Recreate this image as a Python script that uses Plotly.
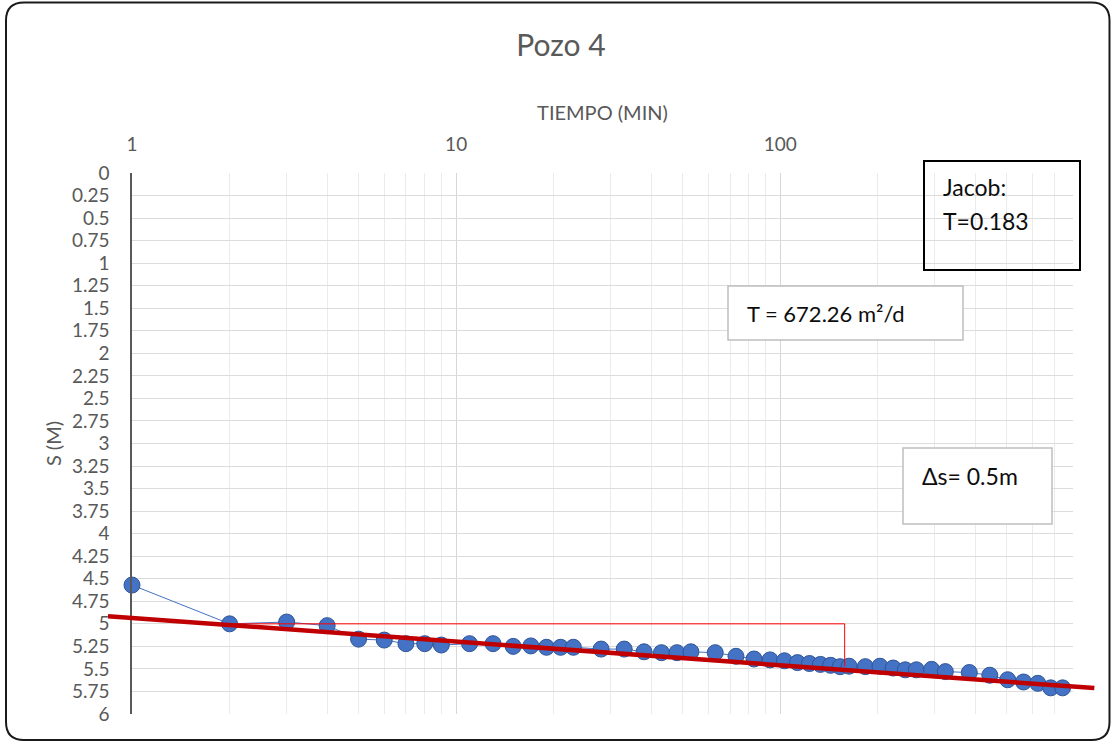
import math
import plotly.graph_objects as go

# ---------------- data ----------------
tiempo_min = [1, 2, 3, 4, 5, 6, 7, 8, 9, 11, 13, 15, 17, 19, 21, 23, 28, 33, 38, 43,
              48, 53, 63, 73, 83, 93, 103, 113, 123, 133, 143, 153, 163, 183, 203,
              223, 243, 263, 293, 323, 383, 443, 503, 563, 623, 683, 743]
abatimiento_m = [4.57, 5.00, 4.98, 5.02, 5.17, 5.18, 5.22, 5.22, 5.235, 5.22, 5.22,
                 5.25, 5.245, 5.26, 5.26, 5.26, 5.28, 5.28, 5.31, 5.32, 5.32, 5.31,
                 5.32, 5.36, 5.39, 5.40, 5.41, 5.43, 5.44, 5.45, 5.46, 5.475, 5.47,
                 5.475, 5.47, 5.49, 5.51, 5.51, 5.505, 5.53, 5.54, 5.57, 5.62, 5.645,
                 5.66, 5.71, 5.71]

# Jacob straight line: s = a + b*log10(t)
trend_a = 4.935
trend_b = 0.262
trend_t = [0.843, 931]

# delta-s construction line
delta_t = [2, 158, 158]
delta_s = [5.0, 5.0, 5.47]

x_range_max = 800
y_range = [6, 0]
y_ticks = [i * 0.25 for i in range(25)]

title_text = "Pozo 4"
x_title = "TIEMPO (MIN)"
y_title = "S (M)"

# ---------------- layout geometry ----------------
W, H = 1112, 742
ML, MR, MT, MB = 132, 39, 173, 28
PW, PH = W - ML - MR, H - MT - MB
FONT = "Lato"
GRAY = "#595959"


def px(xp):
    return (xp - ML) / PW


def py(yp):
    return 1 - (yp - MT) / PH


fig = go.Figure()

fig.add_trace(go.Scatter(
    x=tiempo_min, y=abatimiento_m, mode="lines+markers", cliponaxis=False,
    line=dict(color="#4472C4", width=1),
    marker=dict(size=16, color="#4472C4", line=dict(color="#2F5597", width=1)),
    showlegend=False, hoverinfo="x+y"))

fig.add_trace(go.Scatter(
    x=delta_t, y=delta_s, mode="lines",
    line=dict(color="#FF0000", width=1),
    showlegend=False, hoverinfo="skip"))

# trendline (extends beyond plot area like Excel forecast) -> paper coords
lmax = math.log10(x_range_max)
tx = [math.log10(t) / lmax for t in trend_t]
ty = [1 - (trend_a + trend_b * math.log10(t)) / y_range[0] for t in trend_t]
shapes = [dict(type="line", xref="paper", yref="paper",
               x0=tx[0], y0=ty[0], x1=tx[1], y1=ty[1],
               line=dict(color="#C00000", width=4.5), layer="above")]

# rounded chart frame
L, T, R, B, r = 6, 2.5, 1109.5, 740, 18
rx, ry = r / PW, r / PH
path = (f"M {px(L)+rx},{py(T)} L {px(R)-rx},{py(T)} Q {px(R)},{py(T)} {px(R)},{py(T)-ry} "
        f"L {px(R)},{py(B)+ry} Q {px(R)},{py(B)} {px(R)-rx},{py(B)} "
        f"L {px(L)+rx},{py(B)} Q {px(L)},{py(B)} {px(L)},{py(B)+ry} "
        f"L {px(L)},{py(T)-ry} Q {px(L)},{py(T)} {px(L)+rx},{py(T)} Z")
shapes.append(dict(type="path", xref="paper", yref="paper", path=path,
                   line=dict(color="#1A1A1A", width=2), layer="above"))

# text boxes
shapes.append(dict(type="rect", xref="paper", yref="paper",
                   x0=px(924), y0=py(161), x1=px(1080), y1=py(270),
                   line=dict(color="#000000", width=2), layer="above"))
shapes.append(dict(type="rect", xref="paper", yref="paper",
                   x0=px(728), y0=py(286), x1=px(963), y1=py(340),
                   fillcolor="white", line=dict(color="#BFBFBF", width=1.5), layer="above"))
shapes.append(dict(type="rect", xref="paper", yref="paper",
                   x0=px(903), y0=py(448), x1=px(1052), y1=py(524),
                   fillcolor="white", line=dict(color="#BFBFBF", width=1.5), layer="above"))

ann = []


def label(text, xp, yp, size):
    ann.append(dict(text=text, xref="paper", yref="paper", x=px(xp), y=py(yp),
                    xanchor="left", yanchor="middle", showarrow=False,
                    font=dict(family=FONT, size=size, color="#0D0D0D")))


label("Jacob:", 941, 187, 23)
label("T=0.183", 941, 221, 23)
label("T = 672.26 m²/d", 745, 313, 22)
label("Δs= 0.5m", 920, 476, 23)

fig.update_layout(
    width=W, height=H, margin=dict(l=ML, r=MR, t=MT, b=MB),
    paper_bgcolor="white", plot_bgcolor="white",
    shapes=shapes, annotations=ann,
    title=dict(text=title_text, x=561 / W, xanchor="center", xref="container",
               y=1 - 45 / H, yanchor="middle", yref="container",
               font=dict(family=FONT, size=30, color=GRAY)),
    xaxis=dict(type="log", side="top", range=[0, lmax], dtick=1,
               showgrid=True, gridcolor="#D6D6D6", gridwidth=1,
               minor=dict(showgrid=True, gridcolor="#EBEBEB", dtick="D1", ticks=""),
               showline=False, zeroline=False, ticks="",
               tickfont=dict(family=FONT, size=19, color=GRAY), ticklabelstandoff=17,
               title=dict(text=x_title, font=dict(family=FONT, size=20, color=GRAY), standoff=6)),
    yaxis=dict(range=y_range, tickvals=y_ticks, showgrid=True, gridcolor="#DCDCDC",
               gridwidth=1, zeroline=False, showline=True, linecolor="#595959", linewidth=1.5,
               ticks="", tickfont=dict(family=FONT, size=19, color=GRAY), ticklabelstandoff=17,
               title=dict(text=y_title, font=dict(family=FONT, size=20, color=GRAY), standoff=5)),
    font=dict(family=FONT),
)

fig.write_html("out.html")
